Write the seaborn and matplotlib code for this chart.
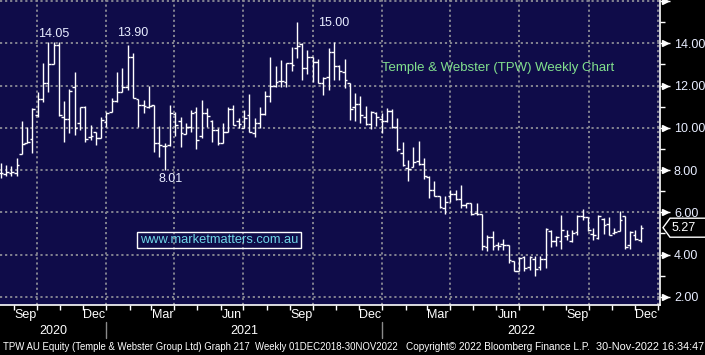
import numpy as np
import pandas as pd
import matplotlib
matplotlib.use("Agg")
import matplotlib.pyplot as plt
import matplotlib.dates as mdates
import matplotlib.transforms as mtransforms
from matplotlib.patches import Polygon
from matplotlib.ticker import NullFormatter, FixedLocator
import seaborn as sns
import datetime as dt

# ---------------- data (weekly OHLC) ----------------
opens = [7.85, 7.8, 7.85, 7.85, 8.75, 9.3, 9.45, 10.6, 11.35, 12.1,
         13.0, 13.9, 10.5, 10.4, 11.92, 10.22, 10.97, 9.56, 9.82, 9.51,
         10.29, 10.77, 11.29, 11.71, 11.92, 13.34, 11.35, 11.08, 11.0, 11.08,
         9.3, 9.15, 9.19, 10.66, 10.34, 9.72, 10.03, 10.77, 9.62, 10.69,
         10.3, 9.9, 9.27, 9.82, 10.89, 10.3, 10.0, 10.6, 9.77, 10.21,
         10.66, 11.51, 11.98, 12.2, 12.19, 13.05, 13.76, 13.95, 12.82, 13.34,
         13.13, 12.14, 12.4, 13.6, 12.94, 12.66, 12.1, 10.97, 11.13, 10.53,
         10.18, 10.72, 10.42, 10.34, 10.81, 10.03, 8.8, 8.09, 8.14, 8.45,
         8.28, 7.66, 7.07, 6.78, 6.2, 6.75, 6.88, 6.62, 6.35, 6.43,
         5.95, 5.93, 4.35, 4.85, 4.46, 4.5, 4.46, 3.68, 3.2, 3.88,
         3.4, 3.78, 3.4, 3.78, 5.13, 4.63, 4.66, 4.87, 4.63, 5.06,
         5.81, 5.76, 4.98, 4.76, 5.7, 5.46, 5.02, 5.13, 5.81, 4.43,
         4.94, 4.71]
highs = [8.33, 8.25, 8.2, 8.59, 10.34, 10.03, 10.93, 11.71, 13.05, 14.05,
         14.05, 14.05, 11.27, 11.83, 12.63, 10.98, 11.05, 10.12, 9.82, 10.5,
         10.75, 11.4, 12.66, 12.85, 13.9, 13.53, 11.35, 11.32, 11.98, 11.08,
         10.09, 9.27, 11.08, 10.77, 10.5, 10.25, 10.85, 10.98, 11.32, 10.93,
         10.37, 9.98, 10.21, 11.0, 11.08, 10.45, 10.85, 11.6, 10.45, 10.97,
         11.75, 13.37, 12.93, 13.21, 13.09, 13.84, 15.0, 14.0, 13.68, 13.37,
         13.24, 12.42, 13.76, 14.05, 12.97, 13.24, 12.11, 11.67, 11.51, 11.04,
         10.81, 10.77, 10.72, 10.92, 10.88, 10.45, 9.35, 8.48, 9.08, 9.38,
         8.56, 7.7, 7.46, 6.78, 6.75, 7.07, 7.07, 7.3, 6.46, 6.43,
         6.43, 5.93, 4.93, 5.09, 4.57, 4.73, 4.46, 3.68, 3.88, 3.95,
         3.95, 3.92, 3.95, 5.26, 5.18, 4.87, 5.86, 5.15, 5.15, 5.89,
         6.17, 5.78, 5.26, 5.86, 5.73, 5.78, 5.26, 6.05, 5.84, 5.1,
         5.18, 5.42]
lows = [7.62, 7.7, 7.7, 7.7, 8.75, 9.27, 8.8, 10.5, 11.24, 11.7,
        13.0, 10.55, 9.35, 9.77, 9.65, 9.9, 9.32, 9.43, 9.19, 9.51,
        10.03, 10.75, 11.24, 11.71, 11.79, 11.4, 10.06, 10.69, 10.93, 8.87,
        8.64, 8.01, 9.15, 9.59, 9.11, 9.72, 9.82, 8.99, 9.51, 10.06,
        9.35, 9.19, 9.27, 9.82, 10.13, 9.98, 9.98, 9.82, 9.58, 9.98,
        10.61, 11.24, 11.92, 11.95, 11.95, 12.71, 13.29, 12.27, 12.55, 12.19,
        12.11, 11.56, 11.79, 12.26, 12.26, 11.87, 10.37, 10.34, 10.25, 10.14,
        9.93, 10.09, 9.77, 10.29, 9.98, 8.92, 8.17, 7.5, 8.14, 8.24,
        7.57, 6.67, 6.75, 6.2, 5.93, 6.51, 6.59, 6.2, 6.2, 5.88,
        5.88, 4.23, 4.15, 4.23, 4.23, 4.23, 3.6, 3.2, 3.2, 3.2,
        3.28, 3.0, 3.26, 3.37, 4.36, 4.39, 4.24, 4.71, 4.58, 4.94,
        5.62, 5.12, 4.71, 4.74, 4.99, 4.93, 4.99, 5.1, 4.27, 4.24,
        4.71, 4.6]
closes = [7.85, 7.9, 7.9, 8.25, 9.22, 9.35, 10.9, 11.35, 12.11, 13.0,
          13.9, 10.6, 10.4, 11.75, 9.98, 10.97, 9.46, 9.62, 9.51, 10.37,
          10.72, 11.29, 11.71, 11.92, 13.34, 11.4, 11.08, 11.03, 11.05, 9.3,
          9.19, 9.15, 10.69, 10.14, 9.77, 10.03, 10.72, 9.43, 10.69, 10.58,
          9.9, 9.27, 9.82, 10.89, 10.13, 10.2, 10.45, 9.82, 10.21, 10.66,
          11.51, 11.98, 12.19, 12.2, 13.05, 12.97, 13.89, 12.82, 13.37, 13.13,
          12.14, 12.38, 13.6, 12.94, 12.69, 12.26, 10.88, 11.13, 10.61, 10.18,
          10.77, 10.53, 10.34, 10.8, 10.03, 8.98, 8.24, 8.06, 8.4, 8.28,
          7.7, 7.06, 6.78, 6.25, 6.51, 6.88, 6.62, 6.35, 6.43, 5.93,
          5.93, 4.38, 4.85, 4.42, 4.42, 4.46, 3.72, 3.2, 3.85, 3.36,
          3.88, 3.3, 3.78, 5.23, 4.63, 4.83, 5.15, 4.94, 5.02, 5.81,
          5.76, 5.15, 4.93, 5.81, 5.42, 4.94, 5.06, 5.65, 4.36, 5.07,
          4.74, 5.27]

week_dates = pd.date_range("2020-08-14", periods=len(closes), freq="7D")

y_major = [2, 4, 6, 8, 10, 12, 14, 16]
y_minor = [3, 5, 7, 9, 11, 13, 15]
month_labels = [(2020, 9, "Sep"), (2020, 12, "Dec"), (2021, 3, "Mar"), (2021, 6, "Jun"),
                (2021, 9, "Sep"), (2021, 12, "Dec"), (2022, 3, "Mar"), (2022, 6, "Jun"),
                (2022, 9, "Sep"), (2022, 12, "Dec")]
years = [2020, 2021, 2022]
high_labels = [10, 24, 56]   # bars whose highs are annotated
low_labels = [31]            # bar whose low is annotated

title_text = "Temple & Webster (TPW) Weekly Chart"
site_text = "www.marketmatters.com.au"
footer_left = "TPW AU Equity (Temple & Webster Group Ltd) Graph 217  Weekly 01DEC2018-30NOV2022"
footer_mid = "Copyright\u00a9 2022 Bloomberg Finance L.P."
footer_right = "30-Nov-2022 16:34:47"

# ---------------- style ----------------
sns.set_theme(style="dark")
plt.rcParams["font.family"] = ["Liberation Sans", "DejaVu Sans"]
NAVY = "#0f0c49"
GRID = "#8c8c96"
LBL = "#e8edff"
FS = 9

W, H = 705, 355
AX_W, AX_H = 660, 305
fig = plt.figure(figsize=(W / 100, H / 100), dpi=100, facecolor="black")
ax = fig.add_axes([0, 1 - AX_H / H, AX_W / W, AX_H / H])
ax.set_facecolor(NAVY)

# ---------------- OHLC bars via seaborn ----------------
n = len(closes)
wk = list(range(n))
tick = pd.Timedelta(days=3.6)
hl = pd.DataFrame({"date": list(week_dates) * 2, "price": lows + highs, "week": wk * 2})
ot = pd.DataFrame({"date": list(week_dates - tick) + list(week_dates),
                   "price": opens + opens, "week": wk * 2})
ct = pd.DataFrame({"date": list(week_dates) + list(week_dates + tick),
                   "price": closes + closes, "week": wk * 2})
for frame in (hl, ot, ct):
    sns.lineplot(data=frame, x="date", y="price", units="week", estimator=None,
                 sort=False, color="white", linewidth=1.0, legend=False, ax=ax,
                 solid_capstyle="butt", zorder=3)

# ---------------- axes ----------------
x0 = mdates.date2num(dt.datetime(2020, 8, 13, 2))
x1 = x0 + 873.4
ax.set_xlim(x0, x1)
ax.set_ylim(1.61, 16.05)
ax.set_xlabel("")
ax.set_ylabel("")

ax.xaxis.set_major_locator(mdates.MonthLocator(bymonth=[1, 4, 7, 10]))
ax.xaxis.set_minor_locator(mdates.MonthLocator())
ax.xaxis.set_major_formatter(NullFormatter())
ax.xaxis.set_minor_formatter(NullFormatter())
ax.tick_params(axis="x", which="both", bottom=True, top=False, direction="out",
               length=3.5, width=1, color="white")

ax.set_yticks(y_major)
ax.set_yticklabels([f"{v:.2f}" if v < 16 else "" for v in y_major])
ax.yaxis.set_minor_locator(FixedLocator(y_minor))
ax.tick_params(axis="y", which="both", left=False, right=True, labelleft=False,
               labelright=True, direction="out", color="white")
ax.tick_params(axis="y", which="major", length=7, width=1, pad=3,
               labelsize=FS, labelcolor=LBL)
ax.tick_params(axis="y", which="minor", length=3.5, width=1)

ax.set_axisbelow(True)
ax.grid(True, which="major", axis="both", color=GRID, linestyle=(0, (1.2, 1.6)),
        linewidth=1.3)
ax.grid(False, which="minor")

for side in ("left", "top"):
    ax.spines[side].set_visible(False)
for side in ("right", "bottom"):
    ax.spines[side].set_visible(True)
    ax.spines[side].set_color("white")
    ax.spines[side].set_linewidth(1.2)

# arrow heads at the major y ticks
ytr = mtransforms.blended_transform_factory(ax.transAxes, ax.transData)
ax.plot([1 + 5 / AX_W] * len(y_major), y_major, ls="none", marker=">", ms=4,
        color="white", transform=ytr, clip_on=False, zorder=5)

# month and year labels
xtr = ax.get_xaxis_transform()
for yr, mo, lab in month_labels:
    mid = mdates.date2num(dt.datetime(yr, mo, 16))
    ax.text(mid, -10 / AX_H, lab, transform=xtr, ha="center", va="center",
            color="white", fontsize=FS)
bounds = [x0] + [mdates.date2num(dt.datetime(y, 1, 1)) for y in years[1:]] + [x1]
for i, yr in enumerate(years):
    ax.text((bounds[i] + bounds[i + 1]) / 2, -26 / AX_H, str(yr), transform=xtr,
            ha="center", va="center", color="white", fontsize=FS)
for b in bounds[1:-1]:
    ax.plot([b, b], [-17 / AX_H, -33 / AX_H], transform=xtr, clip_on=False,
            color="#8a8a8a", lw=1)

# value annotations
offs_hi = [(0, 8), (5, 12), (21, -1)]
for idx, off in zip(high_labels, offs_hi):
    ax.annotate(f"{highs[idx]:.2f}", (week_dates[idx], highs[idx]), xytext=off,
                textcoords="offset pixels", ha="center" if off[0] < 15 else "left",
                va="center", color=LBL, fontsize=FS, zorder=6)
for idx in low_labels:
    ax.annotate(f"{lows[idx]:.2f}", (week_dates[idx], lows[idx]), xytext=(6, -9),
                textcoords="offset pixels", ha="center", va="center",
                color=LBL, fontsize=FS, zorder=6)

ax.text(382 / AX_W, 1 - 68 / AX_H, title_text, transform=ax.transAxes, ha="left",
        va="center", color="#82e08e", fontsize=9.5)
ax.text(219 / AX_W, 1 - 240 / AX_H, site_text, transform=ax.transAxes, ha="center",
        va="center", color="#6fd6e6", fontsize=9.3,
        bbox=dict(boxstyle="square,pad=0.18", fc="none", ec="white", lw=1))

# last price tag
ident = mtransforms.IdentityTransform()
fig.canvas.draw()
yl = ax.transData.transform((x0, closes[-1]))[1]
xr = ax.transAxes.transform((1, 0))[0]
tag = Polygon([(xr + 3, yl), (xr + 10, yl + 9.5), (W + 5, yl + 9.5),
               (W + 5, yl - 9.5), (xr + 10, yl - 9.5)], closed=True,
              fc="black", ec="white", lw=1, transform=ident, clip_on=False)
fig.add_artist(tag)
fig.text(xr + 12, yl, f"{closes[-1]:.2f}", transform=ident, ha="left", va="center",
         color="white", fontsize=FS)

# footer
foot = ["Liberation Sans", "DejaVu Sans"]
fig.text(3 / W, 1 - 347 / H, footer_left, ha="left", va="center", color="white",
         fontsize=6.95, family=foot)
fig.text(406 / W, 1 - 347 / H, footer_mid, ha="left", va="center", color="white",
         fontsize=7.2, family=foot)
fig.text(1 - 1 / W, 1 - 347 / H, footer_right, ha="right", va="center", color="white",
         fontsize=7.8, family=foot)

fig.savefig("out.png", dpi=100, facecolor="black")
